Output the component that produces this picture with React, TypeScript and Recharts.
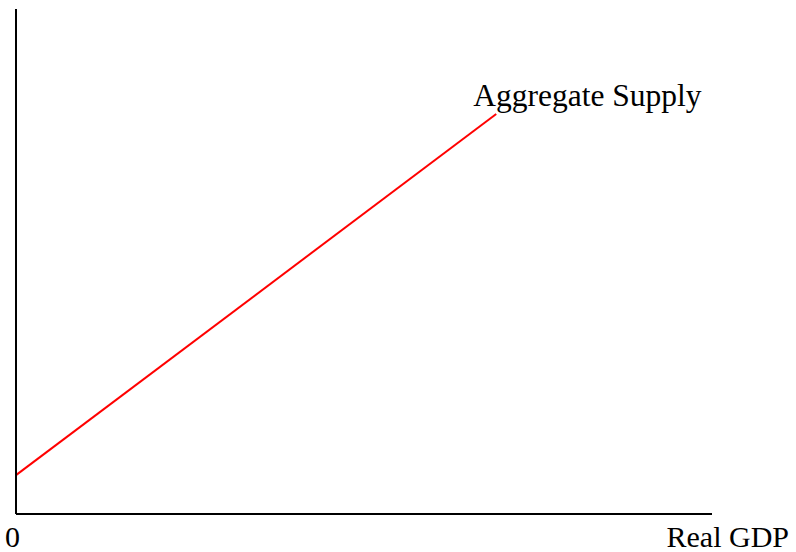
import React from 'react';
import { LineChart, Line, XAxis, YAxis, LabelList } from 'recharts';

const gdp = [0, 69];
const priceLevel = [7.7, 79.2];
const seriesName = 'Aggregate Supply';
const xTickValues = [0, 100];
const xTickLabels = ['0', 'Real GDP'];

const data = gdp.map((g, i) => ({ gdp: g, price: priceLevel[i] }));

const FONT = '"Liberation Serif", "Times New Roman", serif';

const XTick = (props: any) => {
  const { x, payload } = props;
  const idx = xTickValues.indexOf(payload.value);
  const label = xTickLabels[idx];
  if (idx === 0) {
    return (
      <text x={x - 3.5} y={547} textAnchor="middle" fontFamily={FONT} fontSize={30} fill="#000">
        {label}
      </text>
    );
  }
  return (
    <text x={x + 77} y={547} textAnchor="end" fontFamily={FONT} fontSize={30} fill="#000">
      {label}
    </text>
  );
};

const SeriesLabel = (props: any) => {
  const { x, y, index } = props;
  if (index !== data.length - 1) return null;
  return (
    <text x={x - 23} y={y - 8} textAnchor="start" fontFamily={FONT} fontSize={31.5} fill="#000">
      {seriesName}
    </text>
  );
};

export default function App() {
  return (
    <div style={{ position: 'absolute', left: 0, top: 0, width: 796, height: 552, background: '#fff' }}>
      <LineChart width={796} height={552} data={data} margin={{ top: 9, left: 15, right: 84, bottom: 37 }}>
        <XAxis
          dataKey="gdp"
          type="number"
          domain={[0, 100]}
          ticks={xTickValues}
          tick={<XTick />}
          tickLine={false}
          tickSize={0}
          tickMargin={0}
          height={1}
          axisLine={{ stroke: '#000', strokeWidth: 2 }}
          interval={0}
        />
        <YAxis
          type="number"
          domain={[0, 100]}
          tick={false}
          tickLine={false}
          width={1}
          axisLine={{ stroke: '#000', strokeWidth: 2 }}
        />
        <Line
          dataKey="price"
          stroke="#ff0000"
          strokeWidth={2}
          dot={false}
          isAnimationActive={false}
        >
          <LabelList dataKey="price" content={<SeriesLabel />} />
        </Line>
      </LineChart>
    </div>
  );
}
